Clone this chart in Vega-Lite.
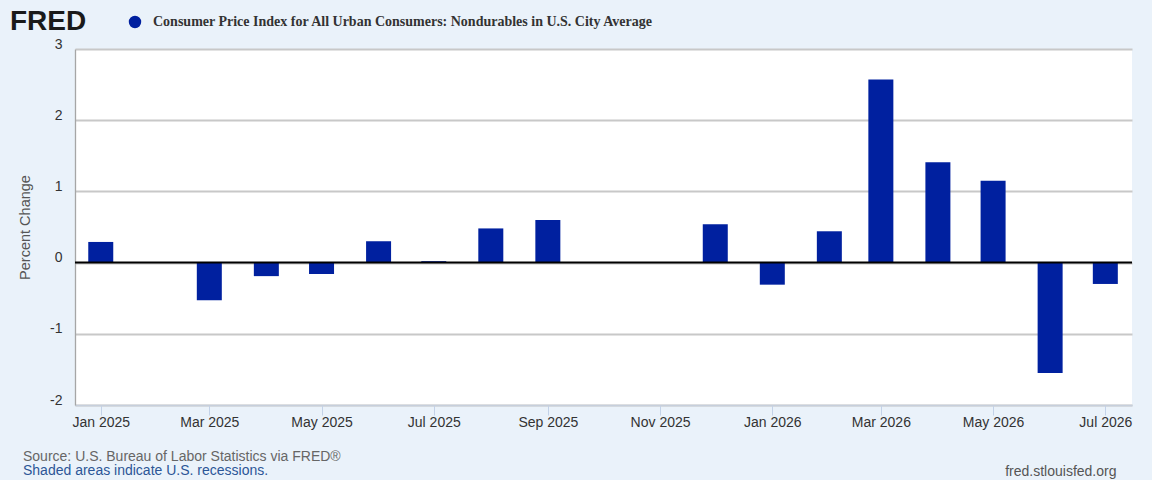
{
  "$schema": "https://vega.github.io/schema/vega-lite/v6.json",
  "width": 1057,
  "height": 356,
  "autosize": "none",
  "padding": {"left": 75, "top": 49, "right": 20, "bottom": 75},
  "background": "#eaf2fa",
  "title": {
    "text": "Source: U.S. Bureau of Labor Statistics via FRED®",
    "subtitle": "Shaded areas indicate U.S. recessions.",
    "orient": "bottom",
    "anchor": "start",
    "frame": "group",
    "dx": -52,
    "offset": -28,
    "font": "Liberation Sans",
    "fontSize": 14,
    "fontWeight": "normal",
    "color": "#666666",
    "subtitleFont": "Liberation Sans",
    "subtitleFontSize": 14,
    "subtitleColor": "#2c5697",
    "subtitlePadding": 0
  },
  "data": {
    "values": [
      {"date": "2025-01-01", "value": 0.29},
      {"date": "2025-02-01", "value": 0},
      {"date": "2025-03-01", "value": -0.53},
      {"date": "2025-04-01", "value": -0.19},
      {"date": "2025-05-01", "value": -0.16},
      {"date": "2025-06-01", "value": 0.30},
      {"date": "2025-07-01", "value": 0.02},
      {"date": "2025-08-01", "value": 0.48},
      {"date": "2025-09-01", "value": 0.60},
      {"date": "2025-12-01", "value": 0.54},
      {"date": "2026-01-01", "value": -0.31},
      {"date": "2026-02-01", "value": 0.44},
      {"date": "2026-03-01", "value": 2.57},
      {"date": "2026-04-01", "value": 1.41},
      {"date": "2026-05-01", "value": 1.15},
      {"date": "2026-06-01", "value": -1.55},
      {"date": "2026-07-01", "value": -0.30}
    ]
  },
  "layer": [
    {
      "mark": {"type": "bar", "width": 25, "color": "#00209f"},
      "encoding": {
        "x": {
          "field": "date",
          "type": "temporal",
          "scale": {
            "type": "utc",
            "padding": 0,
            "domain": [
              {"year": 2024, "month": 12, "date": 18, "utc": true},
              {"year": 2026, "month": 7, "date": 15, "hours": 12, "utc": true}
            ]
          },
          "axis": {
            "title": "fred.stlouisfed.org",
            "titleFont": "Liberation Sans",
            "titleFontSize": 14,
            "titleFontWeight": "normal",
            "titleColor": "#555555",
            "titleAlign": "right",
            "titleBaseline": "alphabetic",
            "titleX": 1041,
            "titleY": 70,
            "format": "%b %Y",
            "tickCount": {"interval": "month", "step": 2},
            "grid": false,
            "domainColor": "#c6cfdc",
            "domainWidth": 1.3,
            "tickColor": "#c3d2e8",
            "tickSize": 10,
            "tickWidth": 1,
            "labelFont": "Liberation Sans",
            "labelFontSize": 14,
            "labelColor": "#333333",
            "labelPadding": 0,
            "labelFlush": false,
            "labelOverlap": false
          }
        },
        "y": {
          "field": "value",
          "type": "quantitative",
          "scale": {"domain": [-2, 3], "nice": false, "zero": false},
          "axis": {
            "title": "Percent Change",
            "titleFont": "Liberation Sans",
            "titleFontSize": 14.5,
            "titleFontWeight": "normal",
            "titleColor": "#555555",
            "titlePadding": 17,
            "values": [-2, -1, 0, 1, 2, 3],
            "labelExpr": "'' + datum.value",
            "ticks": false,
            "grid": true,
            "gridColor": "#c8c8c8",
            "gridWidth": 2,
            "domainColor": "#a6a6a6",
            "domainWidth": 1.3,
            "labelFont": "Liberation Sans",
            "labelFontSize": 14,
            "labelColor": "#333333",
            "labelPadding": 13,
            "labelBaseline": "alphabetic",
            "labelOffset": -1
          }
        },
        "color": {
          "datum": "Consumer Price Index for All Urban Consumers: Nondurables in U.S. City Average",
          "scale": {"range": ["#00209f"]},
          "legend": {
            "orient": "none",
            "legendX": -65,
            "legendY": -34,
            "title": "FRED",
            "titleOrient": "left",
            "titleFont": "Liberation Sans",
            "titleFontSize": 28,
            "titleFontWeight": 900,
            "titleColor": "#1a1a1a",
            "titlePadding": 41,
            "symbolType": "circle",
            "symbolSize": 154,
            "symbolStrokeWidth": 0,
            "labelFont": "Liberation Serif",
            "labelFontSize": 14,
            "labelFontWeight": "bold",
            "labelColor": "#333333",
            "labelOffset": 11,
            "labelLimit": 0
          }
        }
      }
    },
    {
      "data": {"values": [{}]},
      "mark": {"type": "rule", "color": "#000000", "strokeWidth": 2},
      "encoding": {"y": {"datum": 0}}
    }
  ],
  "config": {"view": {"fill": "#ffffff", "stroke": null}}
}
